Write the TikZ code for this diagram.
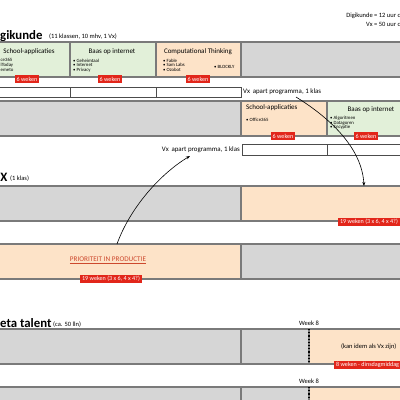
\documentclass[tikz,border=0pt]{standalone}
\usepackage{fontspec}
\setmainfont{Carlito}
\usetikzlibrary{arrows.meta}
\definecolor{bandgray}{RGB}{214,214,214}
\definecolor{bandline}{RGB}{122,122,122}
\definecolor{lgreen}{RGB}{226,240,217}
\definecolor{peach}{RGB}{253,227,200}
\definecolor{redlab}{RGB}{226,38,26}
\definecolor{priocol}{RGB}{205,72,45}
\begin{document}
\begin{tikzpicture}[x=1pt,y=-1pt,
  band/.style={draw=bandline, line width=1.4pt, fill=bandgray},
  wbox/.style={draw=black!70, line width=0.7pt, fill=white},
  rlab/.style={fill=redlab, text=white, font=\fontsize{6.1}{6.5}\selectfont, inner xsep=2pt, inner ysep=1.6pt},
  btitle/.style={font=\fontsize{7}{8}\selectfont, inner sep=0pt},
  items/.style={font=\fontsize{4.8}{4.6}\selectfont, align=left, anchor=north west, inner sep=0pt},
  small/.style={font=\fontsize{6.5}{7}\selectfont, inner sep=0pt},
  bigtitle/.style={font=\fontsize{12.8}{14}\bfseries\selectfont, inner sep=0pt, anchor=base west},
  arr/.style={-{Stealth[length=4pt,width=3pt]}, line width=0.6pt}
]
\useasboundingbox[fill=white] (0,0) rectangle (400,400);

% top right note
\node[small, anchor=east] (note1) at (400.5,16) {Digikunde = 12 uur c};
\node[small, anchor=east] (note2) at (400.5,24.5) {Vx = 50 uur c};

% title 1
\node[bigtitle] (t1) at (0,39) {gikunde};
\node[small, anchor=base west] (t1s) at (49,38.5) {(11 klassen, 10 mhv, 1 Vx)};

% row 1
\draw[band, fill=lgreen] (-5,42) rectangle (70,77);
\draw[band, fill=lgreen] (70,42) rectangle (156,77);
\draw[band, fill=peach] (156,42) rectangle (241,77);
\draw[band] (241,42) rectangle (405,77);
\node[btitle] (b1t) at (29,52) {School-applicaties};
\node[items] (b1i) at (0.5,58.5) {ce365\\lToday\\emeto};
\node[btitle] (b2t) at (112,52) {Baas op internet};
\node[items] (b2i) at (73,58.5) {\textbullet\ Geheimtaal\\\textbullet\ Internet\\\textbullet\ Privacy};
\node[btitle] (b3t) at (198,51.5) {Computational Thinking};
\node[items] (b3i) at (163,58.5) {\textbullet\ Fable\\\textbullet\ Sam Labs\\\textbullet\ Ozobot};
\node[items, anchor=west] (b3j) at (214,66.5) {\textbullet\ BLOCKLY};
\node[rlab] (r1) at (27,79) {6 weken};
\node[rlab] (r2) at (110,79) {6 weken};
\node[rlab] (r3) at (198,79) {6 weken};

% row 1b
\draw[wbox] (-5,87) rectangle (70,97);
\draw[wbox] (70,87) rectangle (156,97);
\draw[wbox] (156,87) rectangle (241,97);
\node[small, font=\fontsize{6.9}{7}\selectfont, anchor=west] (vx1) at (243,92) {Vx\, apart programma, 1 klas};
\coordinate (a2s) at (296,97);

% row 2
\draw[band] (-5,101) rectangle (241,136);
\draw[band, fill=peach] (241,101) rectangle (327,136);
\draw[band, fill=lgreen] (327,101) rectangle (405,136);
\node[btitle, anchor=west] (c1t) at (246,108) {School-applicaties};
\node[items, anchor=west] (c1i) at (246,120) {\textbullet\ Office365};
\node[btitle] (c2t) at (371,110) {Baas op internet};
\node[items] (c2i) at (330,116) {\textbullet\ Algoritmen\\\textbullet\ Datagoren\\\textbullet\ Encyptie};
\node[rlab] (r4) at (283,136) {6 weken};
\node[rlab] (r5) at (366,136) {6 weken};

% row 2b
\node[small, font=\fontsize{6.9}{7}\selectfont, anchor=east] (vx2) at (240,150) {Vx\, apart programma, 1 klas};
\draw[wbox] (242,144) rectangle (327,155);
\draw[wbox] (327,144) rectangle (405,155);
\coordinate (a1e) at (190,156);

% title 2
\node[bigtitle] (t2) at (0.3,181) {X};
\node[small, anchor=base west] (t2s) at (10,180.5) {(1 klas)};

% row 3
\draw[band] (-5,186) rectangle (241,221);
\draw[band, fill=peach] (241,186) rectangle (405,221);
\node[rlab] (r6) at (369,222) {19 weken (3 x 6, 4 x 4?)};
\coordinate (a2e) at (364,186);

% row 4
\draw[band, fill=peach] (-5,244) rectangle (241,279);
\draw[band] (241,244) rectangle (405,279);
\node[font=\fontsize{7.2}{8}\selectfont, text=priocol, inner sep=0pt] (prio) at (108,260) {\underline{PRIORITEIT IN PRODUCTIE}};
\node[rlab] (r7) at (111,279) {19 weken (3 x 6, 4 x 4?)};
\coordinate (a1s) at (117,244);

% title 3
\node[bigtitle] (t3) at (0,327) {eta talent};
\node[small, anchor=base west] (t3s) at (53,326.5) {(ca. 50 lln)};

% row 5
\draw[band] (-5,329) rectangle (241,364);
\draw[band] (241,329) rectangle (309,364);
\draw[band, fill=peach] (309,329) rectangle (405,364);
\draw[line width=1.2pt, dotted, black] (309,329) -- (309,364);
\node[small] (w1) at (309,323) {Week 8};
\node[small, anchor=west] (kan) at (341,347) {(kan idem als Vx zijn)};
\node[rlab, anchor=west] (r8) at (334,365) {8 weken - dinsdagmiddag};

% row 6
\draw[band] (-5,387) rectangle (241,410);
\draw[band] (241,387) rectangle (309,410);
\draw[band, fill=peach] (309,387) rectangle (405,410);
\draw[line width=1.2pt, dotted, black] (309,387) -- (309,400);
\node[small] (w2) at (309,381) {Week 8};

% arrows
\draw[arr] (a1s) .. controls (130,208) and (160,174) .. (a1e);
\draw[arr] (a2s) .. controls (330,118) and (362,148) .. (a2e);
\end{tikzpicture}
\end{document}
